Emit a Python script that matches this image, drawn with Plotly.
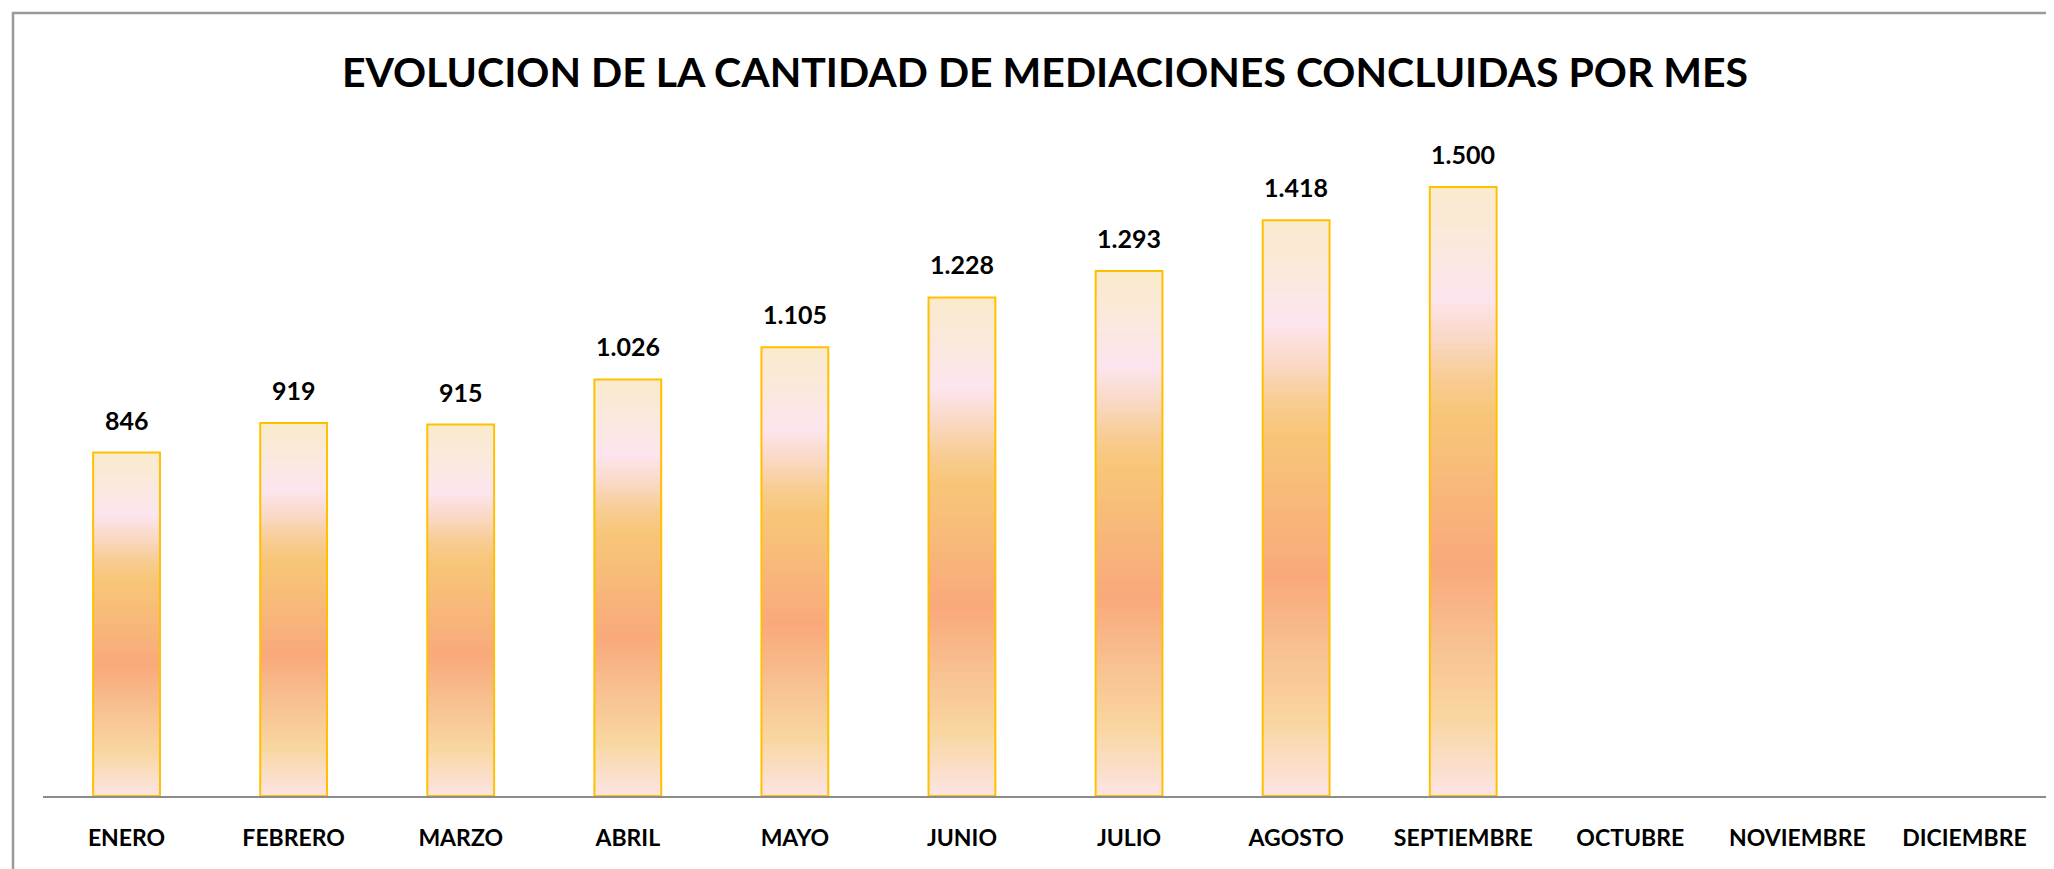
import numpy as np
import plotly.graph_objects as go

# ---- data ----
months = ["ENERO", "FEBRERO", "MARZO", "ABRIL", "MAYO", "JUNIO", "JULIO",
          "AGOSTO", "SEPTIEMBRE", "OCTUBRE", "NOVIEMBRE", "DICIEMBRE"]
values = [846, 919, 915, 1026, 1105, 1228, 1293, 1418, 1500, None, None, None]
title_text = "EVOLUCION DE LA CANTIDAD DE MEDIACIONES CONCLUIDAS POR MES"

# ---- style ----
# the page body has an 8px margin, so the figure is laid out 8px up/left
W, H = 2046, 861
ML, MR, MT, MB = 35, 6, 122, 73
plot_w = W - ML - MR
plot_h = H - MT - MB
px_per_unit = 0.406
ymax = plot_h / px_per_unit

# gradient stops measured from the top of each bar (0) to its base (1)
grad_pos = [0.0, 0.10, 0.18, 0.25, 0.31, 0.37, 0.50, 0.62, 0.75, 0.87, 1.0]
grad_rgb = [(250, 235, 205), (251, 232, 222), (252, 229, 238), (250, 216, 196),
            (248, 205, 150), (248, 198, 120), (248, 184, 122), (249, 169, 123),
            (248, 193, 145), (249, 214, 160), (252, 228, 228)]
grad_rgb = np.array(grad_rgb, dtype=float)

def grad_color(t):
    r = np.interp(t, grad_pos, grad_rgb[:, 0])
    g = np.interp(t, grad_pos, grad_rgb[:, 1])
    b = np.interp(t, grad_pos, grad_rgb[:, 2])
    return f"rgb({int(round(r))},{int(round(g))},{int(round(b))})"

N = 120
bar_w = 0.40
fnt = "Lato"

fig = go.Figure()

have = [(m, v) for m, v in zip(months, values) if v is not None]
hx = [m for m, _ in have]
hv = [v for _, v in have]

# each slice runs from its own base up to the bar top; higher slices are drawn
# on top of lower ones, so no seams appear between them
for k in range(N):
    t_top = 1 - (k + 0.5) / N
    fig.add_trace(go.Bar(
        x=hx,
        y=[v - v * k / N for v in hv],
        base=[v * k / N for v in hv],
        width=bar_w,
        marker=dict(color=grad_color(t_top), line=dict(width=0)),
        hoverinfo="skip",
        showlegend=False,
    ))

# outline
fig.add_trace(go.Bar(
    x=months,
    y=values,
    width=bar_w,
    marker=dict(color="rgba(0,0,0,0)", line=dict(color="#FFC000", width=2)),
    showlegend=False,
    hovertemplate="%{x}: %{y}<extra></extra>",
))

# value labels
for m, v in have:
    fig.add_annotation(
        x=m, y=v, xref="x", yref="y",
        text=f"{v:,}".replace(",", "."),
        showarrow=False, yanchor="bottom", yshift=16,
        font=dict(family=fnt, size=25, color="#000000", weight="bold"),
    )

# outer chart border (only left and top visible in the reference)
fig.add_shape(
    type="rect", xref="paper", yref="paper",
    x0=(5 - ML) / plot_w, x1=(W + 30 - ML) / plot_w,
    y0=-(MB + 30) / plot_h, y1=(H - MB - 5) / plot_h,
    line=dict(color="#9a9a9a", width=2.5), fillcolor="rgba(0,0,0,0)",
    layer="below",
)

fig.update_layout(
    width=W, height=H,
    margin=dict(l=ML, r=MR, t=MT, b=MB, pad=0, autoexpand=False),
    barmode="overlay",
    paper_bgcolor="white", plot_bgcolor="white",
    title=dict(
        text=title_text,
        x=1037 / W, xanchor="center",
        y=1 - 65 / H, yanchor="middle", yref="container",
        font=dict(family=fnt, size=41, color="#000000", weight="bold"),
    ),
    xaxis=dict(
        type="category", categoryorder="array", categoryarray=months,
        range=[-0.5, len(months) - 0.5], automargin=False,
        showline=True, linecolor="#8c8c8c", linewidth=2,
        showgrid=False, zeroline=False,
        ticks="outside", ticklen=20, tickcolor="rgba(0,0,0,0)",
        tickfont=dict(family=fnt, size=23, color="#000000", weight="bold"),
        fixedrange=True,
    ),
    yaxis=dict(
        range=[0, ymax], visible=False, showgrid=False, zeroline=False,
        fixedrange=True, automargin=False,
    ),
    showlegend=False,
)

fig.write_html("out.html")
